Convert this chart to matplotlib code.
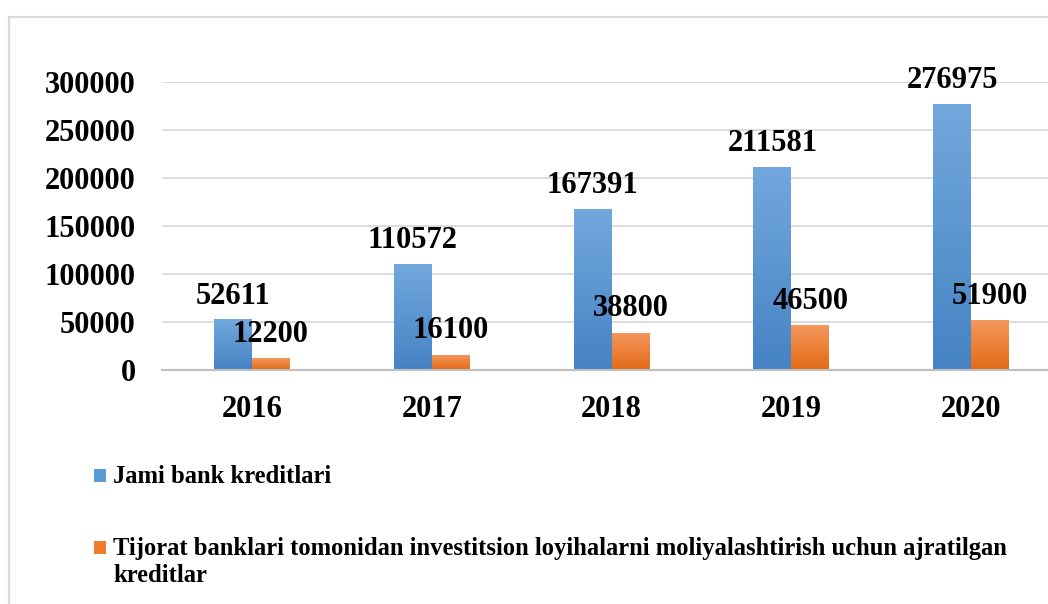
import numpy as np
import matplotlib
matplotlib.use("Agg")
import matplotlib.pyplot as plt
from matplotlib.patches import Rectangle
from matplotlib.colors import LinearSegmentedColormap

# ---- data ----
years = ["2016", "2017", "2018", "2019", "2020"]
total_credits = [52611, 110572, 167391, 211581, 276975]
invest_credits = [12200, 16100, 38800, 46500, 51900]
series_names = [
    "Jami bank kreditlari",
    "Tijorat banklari tomonidan investitsion loyihalarni moliyalashtirish uchun ajratilgan\nkreditlar",
]
yticks = [0, 50000, 100000, 150000, 200000, 250000, 300000]

W, H = 1048, 604
plt.rcParams['font.family'] = ['Liberation Serif', 'DejaVu Serif']
plt.rcParams['font.weight'] = 'bold'

fig = plt.figure(figsize=(W / 100, H / 100), dpi=100)
fig.patch.set_facecolor('white')

# outer frame (chart area border, cropped at right/bottom)
fig.patches.append(Rectangle((9 / W, -0.05), 1.1, 1 - 17 / H + 0.05,
                             transform=fig.transFigure, fill=False,
                             edgecolor='#d9d9d9', linewidth=1.6))

ax = fig.add_axes([162 / W, 1 - 370 / H, (1061 - 162) / W, (370 - 82) / H])
x = np.arange(len(years))
bw = 38 / 180

blue_bars = ax.bar(x - bw / 2, total_credits, bw, color='#5b9bd5', zorder=2)
orange_bars = ax.bar(x + bw / 2, invest_credits, bw, color='#ed7d31', zorder=2)

cm_blue = LinearSegmentedColormap.from_list('b', ['#4683c4', '#72a8dd'])
cm_orange = LinearSegmentedColormap.from_list('o', ['#e26a16', '#f5975d'])
grad = np.linspace(0, 1, 256).reshape(-1, 1)
for bars, cm in ((blue_bars, cm_blue), (orange_bars, cm_orange)):
    for p in bars:
        x0, y0, w, h = p.get_x(), p.get_y(), p.get_width(), p.get_height()
        im = ax.imshow(grad, extent=[x0, x0 + w, y0, y0 + h], origin='lower',
                       aspect='auto', cmap=cm, zorder=2.1, interpolation='bilinear')
        im.set_clip_path(p)

for xi, v in zip(x - bw / 2, total_credits):
    ax.annotate(str(v), (xi, v), xytext=(0, 11.5), textcoords='offset points',
                ha='center', va='baseline', fontsize=22, fontweight='bold', zorder=5)
for xi, v in zip(x + bw / 2, invest_credits):
    ax.annotate(str(v), (xi, v), xytext=(0, 12), textcoords='offset points',
                ha='center', va='baseline', fontsize=22, fontweight='bold', zorder=5)

ax.set_xlim(-0.5, len(years) - 0.5)
ax.set_ylim(0, 300000)
ax.set_yticks(yticks)
ax.set_yticklabels([str(t) for t in yticks], fontsize=22, fontweight='bold')
ax.set_xticks(x)
ax.set_xticklabels(years, fontsize=22, fontweight='bold')
ax.tick_params(axis='y', length=0, pad=19)
ax.tick_params(axis='x', length=0, pad=18)
ax.yaxis.grid(True, color='#d9d9d9', linewidth=1.3, zorder=0)
ax.set_axisbelow(True)
for s in ['top', 'right', 'left']:
    ax.spines[s].set_visible(False)
ax.spines['bottom'].set_color('#bfbfbf')
ax.spines['bottom'].set_linewidth(1.5)
ax.spines['bottom'].set_zorder(3)

# legend (manual, stacked)
legend_colors = ['#5b9bd5', '#ed7d31']
legend_baselines = [483, 555]
line_gap = 27
for name, col, base in zip(series_names, legend_colors, legend_baselines):
    fig.patches.append(Rectangle((94 / W, 1 - (base - 1) / H), 12 / W, 13 / H,
                                 transform=fig.transFigure, facecolor=col,
                                 edgecolor='none'))
    for k, line in enumerate(name.split("\n")):
        fig.text(113 / W, 1 - (base + k * line_gap) / H, line, fontsize=17.7,
                 fontweight='bold', ha='left', va='baseline')

fig.savefig('out.png', dpi=100)
